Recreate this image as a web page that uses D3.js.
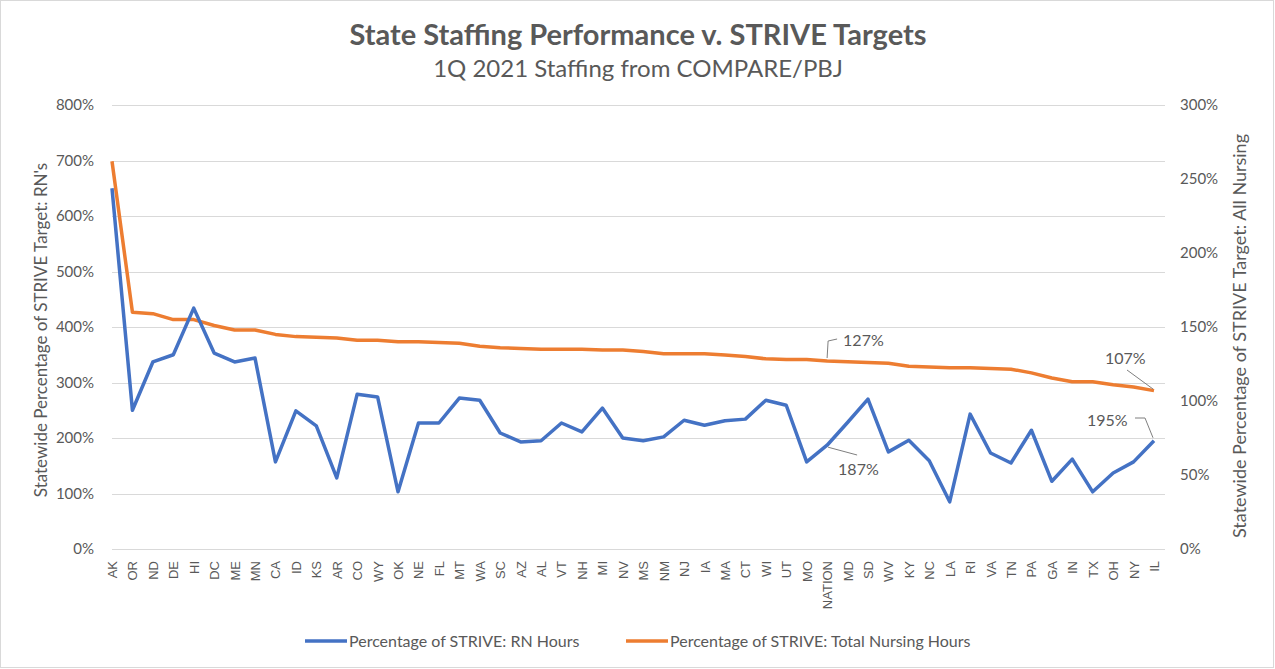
<!doctype html>
<html lang="en">
<head>
<meta charset="UTF-8">
<title>State Staffing Performance v. STRIVE Targets</title>
<style>
    body { margin: 0; background: #fff; }
    svg { display: block; font-family: Lato, "Open Sans", sans-serif; }
    .grid line { stroke: #d9d9d9; stroke-width: 1; }
    .tick-label { fill: #595959; font-size: 15px; }
</style>
</head>
<body>
<svg width="1275" height="669"></svg>
<script src="https://cdn.jsdelivr.net/npm/d3@7"></script>
<script>
    const states = ["AK","OR","ND","DE","HI","DC","ME","MN","CA","ID","KS","AR","CO","WY","OK","NE","FL","MT","WA","SC",
        "AZ","AL","VT","NH","MI","NV","MS","NM","NJ","IA","MA","CT","WI","UT","MO","NATION","MD","SD","WV","KY",
        "NC","LA","RI","VA","TN","PA","GA","IN","TX","OH","NY","IL"];

    // percentage of STRIVE target, RN hours (left axis)
    const rnHours = [650,250,337,350,434,353,337,344,157,249,222,128,279,274,103,227,227,272,268,209,
        193,195,227,211,254,200,195,202,232,223,231,234,268,259,157,187,228,270,175,196,
        159,85,243,173,155,214,122,162,103,137,157,195];

    // percentage of STRIVE target, total nursing hours (right axis)
    const totalHours = [262,160,159,155,155,151,148,148,145,143.5,143,142.5,141,141,140,140,139.5,139,137,136,
        135.5,135,135,135,134.5,134.5,133.5,132,132,132,131,130,128.5,128,128,127,126.5,126,125.5,123.5,
        123,122.5,122.5,122,121.5,119,115.5,113,113,111,109.5,107];

    const leftTicks = [0,100,200,300,400,500,600,700,800];
    const rightTicks = [0,50,100,150,200,250,300];

    const svg = d3.select("svg");
    const textCol = "#595959";

    // outer frame
    svg.append("rect").attr("x", 0.5).attr("y", 0.5).attr("width", 1273).attr("height", 667)
        .attr("fill", "#fff").attr("stroke", "#d9d9d9");

    const plot = {left: 112, right: 1154, gridRight: 1165, top: 105, bottom: 549};

    const x = d3.scalePoint().domain(states).range([plot.left, plot.right]);
    const yL = d3.scaleLinear().domain([0, 800]).range([plot.bottom, plot.top]);
    const yR = d3.scaleLinear().domain([0, 300]).range([plot.bottom, plot.top]);

    // gridlines
    svg.append("g").attr("class", "grid")
        .selectAll("line").data(leftTicks).join("line")
        .attr("x1", plot.left).attr("x2", plot.gridRight)
        .attr("y1", d => Math.round(yL(d)) + 0.5).attr("y2", d => Math.round(yL(d)) + 0.5);

    // left tick labels
    svg.append("g").selectAll("text").data(leftTicks).join("text")
        .attr("class", "tick-label")
        .attr("x", 94).attr("y", d => yL(d)).attr("dy", "0.35em")
        .attr("text-anchor", "end")
        .text(d => d + "%");

    // right tick labels
    svg.append("g").selectAll("text").data(rightTicks).join("text")
        .attr("class", "tick-label")
        .attr("x", 1180).attr("y", d => yR(d)).attr("dy", "0.35em")
        .text(d => d + "%");

    // x category labels
    svg.append("g").selectAll("text").data(states).join("text")
        .attr("transform", d => "translate(" + (x(d) + 5) + ",561) rotate(-90)")
        .attr("text-anchor", "end")
        .attr("fill", textCol)
        .attr("font-family", "'Liberation Sans', Arial, sans-serif")
        .attr("font-size", 13)
        .text(d => d);

    // axis titles
    svg.append("text")
        .attr("transform", "translate(47,330) rotate(-90)")
        .attr("text-anchor", "middle").attr("fill", textCol).attr("font-size", 17)
        .text("Statewide Percentage of STRIVE Target: RN's");
    svg.append("text")
        .attr("transform", "translate(1246,336) rotate(-90)")
        .attr("text-anchor", "middle").attr("fill", textCol).attr("font-size", 18)
        .text("Statewide Percentage of STRIVE Target: All Nursing");

    // lines
    const lineL = d3.line().x((d, i) => x(states[i])).y(d => yL(d));
    const lineR = d3.line().x((d, i) => x(states[i])).y(d => yR(d));

    svg.append("path").datum(totalHours)
        .attr("fill", "none").attr("stroke", "#ED7D31").attr("stroke-width", 3.5)
        .attr("stroke-linejoin", "round").attr("d", lineR);
    svg.append("path").datum(rnHours)
        .attr("fill", "none").attr("stroke", "#4472C4").attr("stroke-width", 3.5)
        .attr("stroke-linejoin", "round").attr("d", lineL);

    // data labels with leader lines
    const iNat = states.indexOf("NATION"), iIL = states.length - 1;
    const leader = (pts) => svg.append("polyline")
        .attr("points", pts.map(p => p.join(",")).join(" "))
        .attr("fill", "none").attr("stroke", "#7f7f7f").attr("stroke-width", 1);
    const label = (tx, ty, t) => svg.append("text")
        .attr("x", tx).attr("y", ty).attr("dy", "0.35em")
        .attr("fill", textCol).attr("font-size", 16).text(t);

    const nx = x("NATION");
    leader([[nx, yR(totalHours[iNat]) - 3], [nx + 1, 341], [nx + 10, 339]]);
    label(nx + 16, 340, "127%");

    leader([[nx + 1, yL(rnHours[iNat]) + 2], [nx + 30, 455]]);
    label(nx + 11, 469, "187%");

    const ix = x("IL");
    leader([[ix - 27, 370], [ix - 1, 389]]);
    label(1105, 358, "107%");

    leader([[ix - 19, 418], [ix - 9, 418], [ix - 1, yL(rnHours[iIL]) - 3]]);
    label(1087, 420, "195%");

    // title
    svg.append("text").attr("x", 638).attr("y", 45)
        .attr("text-anchor", "middle").attr("fill", textCol)
        .attr("font-size", 29).attr("font-weight", "bold")
        .text("State Staffing Performance v. STRIVE Targets");
    svg.append("text").attr("x", 638).attr("y", 77)
        .attr("text-anchor", "middle").attr("fill", textCol)
        .attr("font-size", 24)
        .text("1Q 2021 Staffing from COMPARE/PBJ");

    // legend
    const legend = [
        {name: "Percentage of STRIVE: RN Hours", color: "#4472C4", x: 305},
        {name: "Percentage of STRIVE: Total Nursing Hours", color: "#ED7D31", x: 626}
    ];
    const lg = svg.append("g").selectAll("g").data(legend).join("g")
        .attr("transform", d => "translate(" + d.x + ",641)");
    lg.append("line").attr("x1", 0).attr("x2", 42)
        .attr("stroke", d => d.color).attr("stroke-width", 3.5);
    lg.append("text").attr("x", 44).attr("dy", "0.35em")
        .attr("fill", textCol).attr("font-size", 16).text(d => d.name);
</script>
</body>
</html>
